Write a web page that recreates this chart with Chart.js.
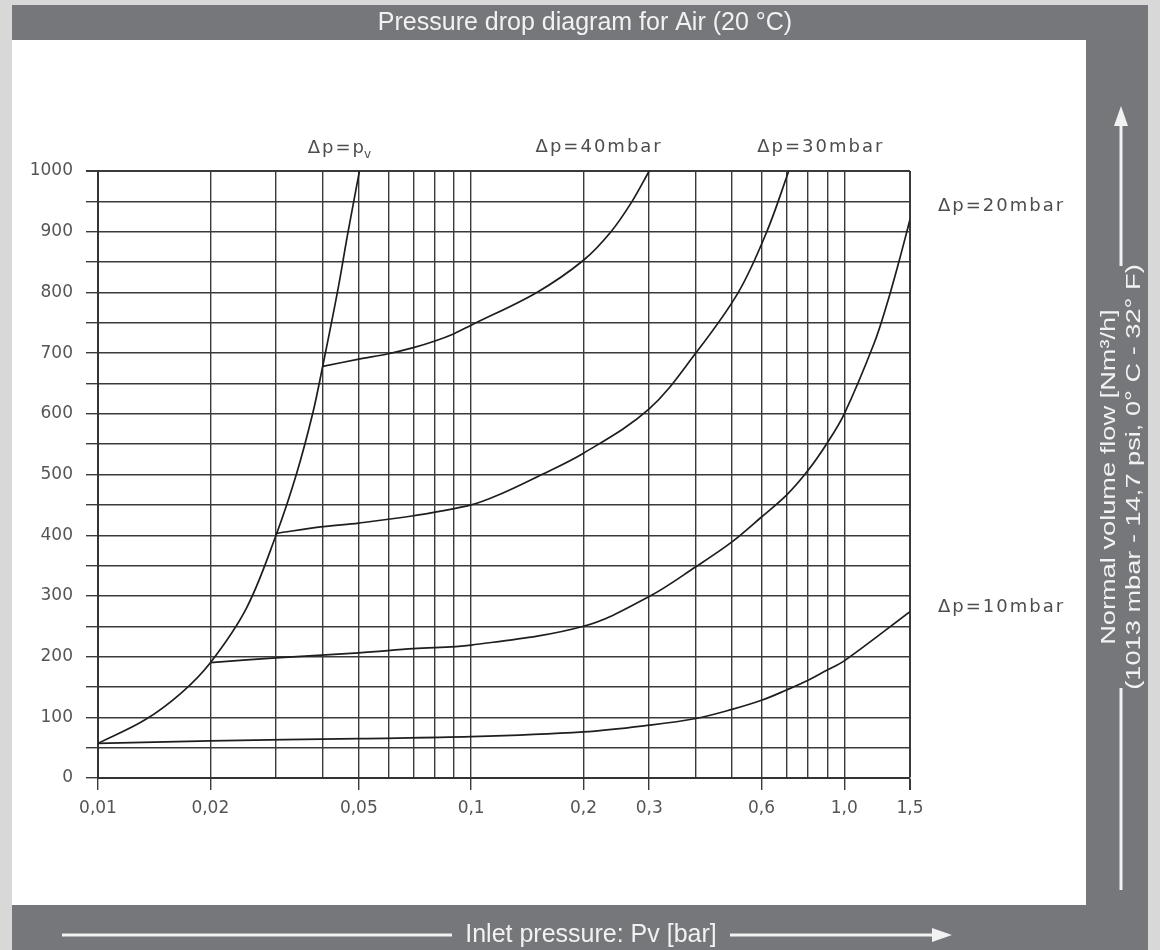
<!DOCTYPE html>
<html>
<head>
<meta charset="utf-8">
<title>Pressure drop diagram for Air (20 °C)</title>
<script src="https://cdn.jsdelivr.net/npm/chart.js@4.4.1/dist/chart.umd.min.js"></script>
<style>
html, body { margin: 0; padding: 0; background: #d8d8d9; }
#chart { display: block; }
</style>
</head>
<body>
<canvas id="chart" width="1160" height="950"></canvas>
<script>
// values: inlet pressure Pv [bar] -> normal volume flow [Nm3/h]
var pvX = [0.01, 0.0133, 0.0167, 0.02, 0.025, 0.03, 0.034, 0.0376, 0.04, 0.0438, 0.0468, 0.0502];
var pvY = [57, 95, 140, 190, 280, 400, 500, 600, 678, 800, 900, 1000];

var dp40X = [0.04, 0.05, 0.06, 0.07, 0.08, 0.09, 0.1, 0.15, 0.2, 0.237, 0.27, 0.3];
var dp40Y = [678, 690, 699, 709, 720, 732, 746, 800, 853, 900, 950, 1000];

var dp30X = [0.03, 0.04, 0.05, 0.07, 0.1, 0.12, 0.15, 0.2, 0.3, 0.4, 0.52, 0.62, 0.71];
var dp30Y = [403, 414, 420, 432, 450, 468, 496, 535, 608, 700, 800, 900, 1000];

var dp20X = [0.02, 0.03, 0.05, 0.07, 0.1, 0.2, 0.3, 0.4, 0.5, 0.6, 0.7, 0.8, 0.9, 1.0, 1.2, 1.3, 1.4, 1.5];
var dp20Y = [190, 198, 206, 213, 219, 250, 299, 348, 389, 430, 466, 507, 552, 600, 715, 780, 850, 920];

var dp10X = [0.01, 0.02, 0.05, 0.1, 0.2, 0.3, 0.4, 0.5, 0.6, 0.7, 0.8, 0.9, 1.0, 1.5];
var dp10Y = [57, 61, 65, 68, 76, 87, 98, 113, 128, 145, 161, 178, 193, 274];

var curveNames = ['Δp=pv', 'Δp=40mbar', 'Δp=30mbar', 'Δp=20mbar', 'Δp=10mbar'];

// log grid of the x axis and the values that carry a label
var xGridValues = [0.01, 0.02, 0.03, 0.04, 0.05, 0.06, 0.07, 0.08, 0.09,
                   0.1, 0.2, 0.3, 0.4, 0.5, 0.6, 0.7, 0.8, 0.9, 1.0, 1.5];
var xTickValues = [0.01, 0.02, 0.05, 0.1, 0.2, 0.3, 0.6, 1.0, 1.5];
var xTickLabels = ['0,01', '0,02', '0,05', '0,1', '0,2', '0,3', '0,6', '1,0', '1,5'];

var chartTitle = 'Pressure drop diagram for Air (20 °C)';
var xTitle = 'Inlet pressure: Pv [bar]';
var yTitle = ['Normal volume flow [Nm³/h]', '(1013 mbar - 14,7 psi, 0° C - 32° F)'];

function toPoints(xs, ys) {
	return xs.map(function(x, i) { return { x: x, y: ys[i] }; });
}

function xLabel(value) {
	for (var i = 0; i < xTickValues.length; i++)
		if (Math.abs(xTickValues[i] - value) < 1e-9) return xTickLabels[i];
	return '';
}

// label place relative to the last point of each curve
var labelPlace = [
	{ dx: -18, dy: -23, align: 'center' },
	{ dx: -50, dy: -24, align: 'center' },
	{ dx: 32, dy: -24, align: 'center' },
	{ dx: 28, dy: -13, align: 'left' },
	{ dx: 28, dy: -4, align: 'left' }
];

var GREY = '#76777b';
var LIGHT = '#f2f2f2';
var FONT = '"Liberation Sans", Arial, sans-serif';

function arrowHead(ctx, tipX, tipY, dirX, dirY) {
	var len = 20, half = 7;
	ctx.beginPath();
	ctx.moveTo(tipX, tipY);
	ctx.lineTo(tipX - dirX * len - dirY * half, tipY - dirY * len - dirX * half);
	ctx.lineTo(tipX - dirX * len + dirY * half, tipY - dirY * len + dirX * half);
	ctx.closePath();
	ctx.fill();
}

var framePlugin = {
	id: 'frame',
	beforeDraw: function(chart) {
		var ctx = chart.ctx;
		ctx.save();
		ctx.fillStyle = '#d8d8d9';
		ctx.fillRect(0, 0, chart.width, chart.height);
		ctx.fillStyle = GREY;
		ctx.fillRect(12, 5, 1136, 945);
		ctx.fillStyle = '#ffffff';
		ctx.fillRect(12, 40, 1074, 865);

		ctx.fillStyle = LIGHT;
		ctx.strokeStyle = LIGHT;
		ctx.textAlign = 'center';
		ctx.textBaseline = 'middle';

		// title
		ctx.font = '25px ' + FONT;
		ctx.fillText(chartTitle, 585, 23);

		// x title with arrow
		ctx.font = '25px ' + FONT;
		ctx.fillText(xTitle, 591, 935);
		ctx.lineWidth = 3;
		ctx.beginPath();
		ctx.moveTo(62, 935); ctx.lineTo(452, 935);
		ctx.moveTo(730, 935); ctx.lineTo(935, 935);
		ctx.stroke();
		arrowHead(ctx, 952, 935, 1, 0);

		// y title with arrow, the lettering is stretched along its length like in the picture
		ctx.save();
		ctx.translate(1120, 477);
		ctx.rotate(-Math.PI / 2);
		ctx.scale(1.36, 1);
		ctx.textBaseline = 'alphabetic';
		ctx.font = '20px ' + FONT;
		ctx.fillText(yTitle[0], 0, -5);
		ctx.fillText(yTitle[1], 0, 20);
		ctx.restore();
		ctx.beginPath();
		ctx.moveTo(1121, 890); ctx.lineTo(1121, 688);
		ctx.moveTo(1121, 266); ctx.lineTo(1121, 122);
		ctx.stroke();
		arrowHead(ctx, 1121, 106, 0, -1);
		ctx.restore();
	}
};

var curveLabelPlugin = {
	id: 'curveLabels',
	afterDatasetsDraw: function(chart) {
		var ctx = chart.ctx;
		ctx.save();
		ctx.fillStyle = '#4d4d4d';
		ctx.textBaseline = 'middle';
		ctx.textAlign = 'left';
		ctx.letterSpacing = '2px';
		chart.data.datasets.forEach(function(ds, i) {
			var meta = chart.getDatasetMeta(i);
			var last = meta.data[meta.data.length - 1];
			var p = labelPlace[i];
			var x = last.x + p.dx, y = last.y + p.dy;
			var text = ds.label, sub = '';
			if (text === 'Δp=pv') { text = 'Δp=p'; sub = 'v'; }
			ctx.font = '18px "DejaVu Sans", sans-serif';
			var w = ctx.measureText(text).width;
			ctx.font = '12px "DejaVu Sans", sans-serif';
			var ws = sub ? ctx.measureText(sub).width : 0;
			var x0 = p.align === 'center' ? x - (w + ws) / 2 : x;
			ctx.font = '18px "DejaVu Sans", sans-serif';
			ctx.fillText(text, x0, y);
			if (sub) {
				ctx.font = '12px "DejaVu Sans", sans-serif';
				ctx.fillText(sub, x0 + w - 2, y + 7);
			}
		});
		ctx.restore();
	}
};

var datasets = [
	{ label: curveNames[0], data: toPoints(pvX, pvY) },
	{ label: curveNames[1], data: toPoints(dp40X, dp40Y) },
	{ label: curveNames[2], data: toPoints(dp30X, dp30Y) },
	{ label: curveNames[3], data: toPoints(dp20X, dp20Y) },
	{ label: curveNames[4], data: toPoints(dp10X, dp10Y) }
];

var tickFont = { family: '"DejaVu Sans", sans-serif', size: 17 };

var chart = new Chart(document.getElementById('chart').getContext('2d'), {
	type: 'line',
	data: { datasets: datasets },
	options: {
		responsive: false,
		animation: false,
		devicePixelRatio: 1,
		layout: { padding: { left: 12, top: 171, right: 250, bottom: 132 } },
		plugins: {
			legend: { display: false },
			tooltip: { enabled: false }
		},
		elements: {
			point: { radius: 0 },
			line: { borderWidth: 1.7, borderColor: '#1e1e1e', tension: 0.35, fill: false }
		},
		scales: {
			x: {
				type: 'logarithmic',
				min: 0.01,
				max: 1.5,
				afterBuildTicks: function(scale) {
					scale.ticks = xGridValues.map(function(v) { return { value: v }; });
				},
				afterFit: function(scale) { scale.height = 40; },
				ticks: {
					autoSkip: false,
					maxRotation: 0,
					padding: 8,
					color: '#555',
					font: tickFont,
					callback: function(value) { return xLabel(value); }
				},
				grid: {
					color: '#3a3a3a',
					lineWidth: function(c) { return c.tick && c.tick.value === 1.5 ? 2 : 1.4; },
					tickLength: 12,
					tickColor: function(c) { return c.tick && xLabel(c.tick.value) ? '#3a3a3a' : 'rgba(0,0,0,0)'; }
				},
				border: { color: '#333', width: 2 }
			},
			y: {
				min: 0,
				max: 1000,
				afterFit: function(scale) { scale.width = 86; },
				ticks: {
					stepSize: 50,
					autoSkip: false,
					padding: 13,
					color: '#555',
					font: tickFont,
					callback: function(value) { return value % 100 === 0 ? value : ''; }
				},
				grid: {
					color: '#3a3a3a',
					lineWidth: function(c) { return c.tick && c.tick.value === 1000 ? 2 : 1.4; },
					tickLength: 12
				},
				border: { color: '#333', width: 2 }
			}
		}
	},
	plugins: [framePlugin, curveLabelPlugin]
});
</script>
</body>
</html>
